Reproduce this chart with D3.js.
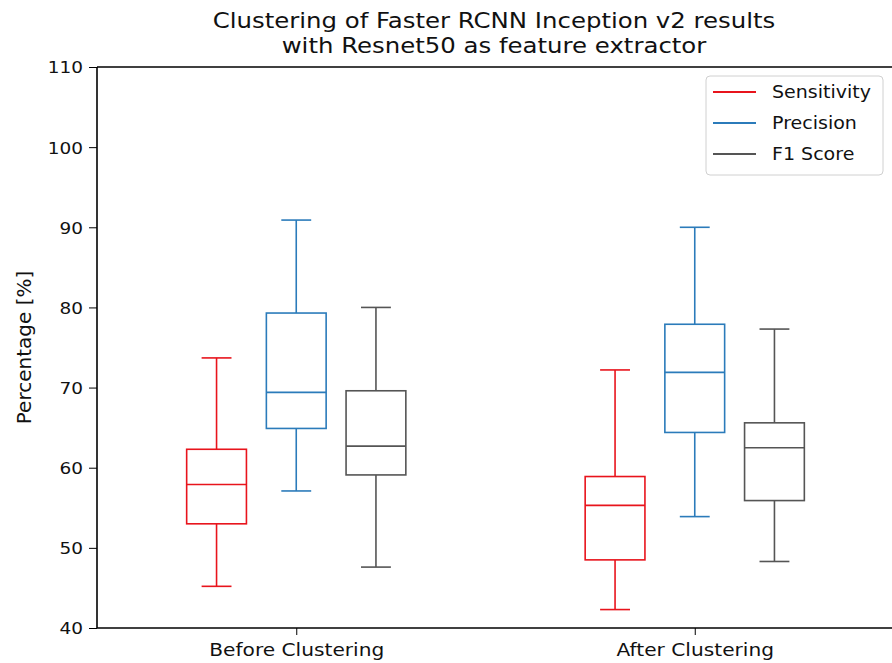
<!DOCTYPE html>
<meta charset="utf-8">
<style>
html, body { margin: 0; background: #fff; overflow: hidden; }
svg { display: block; overflow: hidden; }
svg text { fill: #111; font-family: 'DejaVu Sans', sans-serif; }
.axis line { stroke: #000; }
.axis text { font-size: 16.5px; }
.axis--x text { font-size: 18px; }
.title { font-size: 21.8px; text-anchor: middle; }
.ylabel { font-size: 20px; text-anchor: middle; }
.legend text { font-size: 17px; }
.spine { stroke: #000; stroke-width: 1.6; }
</style>
<body>
<svg width="892" height="663"></svg>
<script src="https://d3js.org/d3.v7.min.js"></script>
<script>
// box stats per group: [low whisker, q1, median, q3, high whisker]
var groups = ["Before Clustering", "After Clustering"];
var seriesNames = ["Sensitivity", "Precision", "F1 Score"];
var colors = ["#e8141c", "#2b7bba", "#555555"];

var sensitivity = [[45.2, 53.0, 57.9, 62.3, 73.7], [42.3, 48.5, 55.3, 58.9, 72.2]];
var precision   = [[57.1, 64.9, 69.4, 79.3, 90.9], [53.9, 64.4, 71.9, 77.9, 90.0]];
var f1score     = [[47.6, 59.1, 62.7, 69.6, 80.0], [48.3, 55.9, 62.5, 65.6, 77.3]];
var yTicks = [40, 50, 60, 70, 80, 90, 100, 110];

var series = [sensitivity, precision, f1score];

var svg = d3.select("svg"),
    margin = {top: 67, right: -2, bottom: 35, left: 97},
    width = +svg.attr("width") - margin.left - margin.right,
    height = +svg.attr("height") - margin.top - margin.bottom;

// the picture's text is a bit wider than DejaVu, so stretch it sideways
var sx = 1.12;
function stretch(sel) {
  sel.each(function() {
    var t = d3.select(this), x0 = +t.attr("x") || 0;
    t.attr("x", x0 / sx).attr("transform", "scale(" + sx + ",1)");
  });
}

var x = d3.scaleLinear().domain([0.5, 2.5]).range([0, width]);
var y = d3.scaleLinear().domain([40, 110]).range([height, 0]);

var g = svg.append("g")
    .attr("transform", "translate(" + margin.left + "," + margin.top + ")");

// title
svg.append("text").attr("class", "title")
    .attr("x", 494).attr("y", 28).text("Clustering of Faster RCNN Inception v2 results");
svg.append("text").attr("class", "title")
    .attr("x", 494).attr("y", 53).text("with Resnet50 as feature extractor");
stretch(svg.selectAll(".title"));

// axes
var yAxis = g.append("g")
    .attr("class", "axis axis--y")
    .call(d3.axisLeft(y).tickValues(yTicks).tickSize(8).tickPadding(6));
yAxis.select(".domain").remove();
yAxis.selectAll(".tick text").attr("dy", "0.36em").call(stretch);

var xAxis = g.append("g")
    .attr("class", "axis axis--x")
    .attr("transform", "translate(0," + height + ")")
    .call(d3.axisBottom(x).tickValues([1, 2]).tickSize(7).tickPadding(8)
      .tickFormat(function(d) { return groups[d - 1]; }));
xAxis.select(".domain").remove();
xAxis.selectAll(".tick text").call(stretch);
svg.selectAll(".axis").attr("font-family", null).attr("font-size", null);

// spines: left, top, bottom (the right one is cut off in the picture)
g.append("line").attr("class", "spine").attr("x1", 0).attr("x2", 0).attr("y1", 0).attr("y2", height);
g.append("line").attr("class", "spine").attr("x1", 0).attr("x2", width).attr("y1", 0).attr("y2", 0);
g.append("line").attr("class", "spine").attr("x1", 0).attr("x2", width).attr("y1", height).attr("y2", height);

svg.append("text").attr("class", "ylabel")
    .attr("transform", "translate(31," + (margin.top + height / 2) + ") rotate(-90)")
    .text("Percentage [%]");

var offset = 0.2, boxW = x(0.65) - x(0.5), capW = boxW / 2;

series.forEach(function(s, si) {
  var col = colors[si];
  s.forEach(function(st, gi) {
    var cx = x(gi + 1 + (si - 1) * offset);
    var bg = g.append("g").attr("stroke", col).attr("stroke-width", 1.6).attr("fill", "none");
    // whiskers
    bg.append("line").attr("x1", cx).attr("x2", cx).attr("y1", y(st[0])).attr("y2", y(st[1]));
    bg.append("line").attr("x1", cx).attr("x2", cx).attr("y1", y(st[3])).attr("y2", y(st[4]));
    // caps
    [st[0], st[4]].forEach(function(v) {
      bg.append("line").attr("x1", cx - capW / 2).attr("x2", cx + capW / 2)
        .attr("y1", y(v)).attr("y2", y(v));
    });
    // box
    bg.append("rect").attr("x", cx - boxW / 2).attr("width", boxW)
      .attr("y", y(st[3])).attr("height", y(st[1]) - y(st[3]));
    // median
    bg.append("line").attr("x1", cx - boxW / 2).attr("x2", cx + boxW / 2)
      .attr("y1", y(st[2])).attr("y2", y(st[2]));
  });
});

// legend
var lg = svg.append("g").attr("class", "legend").attr("transform", "translate(706,76)");
lg.append("rect").attr("width", 177).attr("height", 99).attr("rx", 4)
    .attr("fill", "#fff").attr("stroke", "#d0d0d0");
seriesNames.forEach(function(n, i) {
  var yy = 16 + i * 31;
  lg.append("line").attr("x1", 7).attr("x2", 50).attr("y1", yy).attr("y2", yy)
    .attr("stroke", colors[i]).attr("stroke-width", 2.2);
  lg.append("text").attr("x", 66).attr("y", yy + 6).text(n);
});
stretch(lg.selectAll("text"));
</script>
